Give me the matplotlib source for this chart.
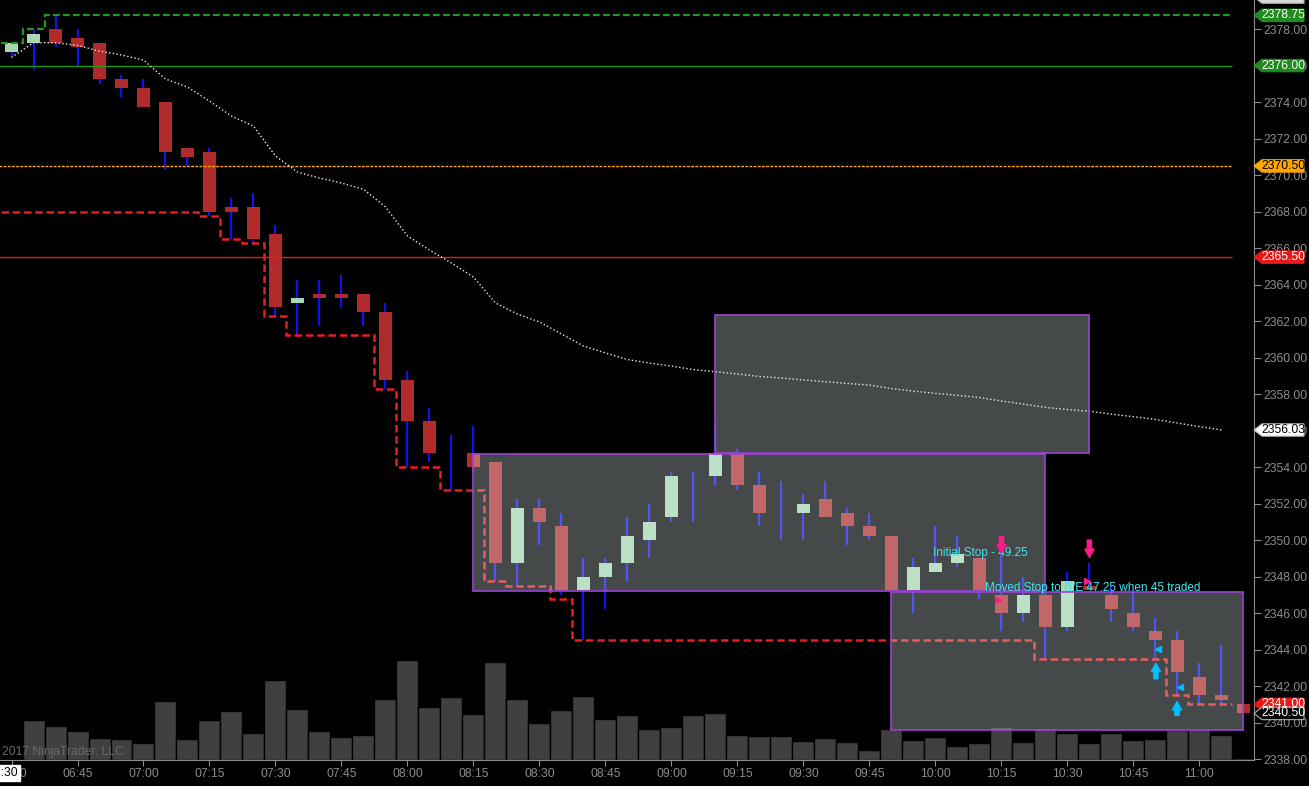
import numpy as np
import pandas as pd
import matplotlib
matplotlib.use('Agg')
import matplotlib.pyplot as plt
import matplotlib.colors as mcolors
from matplotlib.patches import Rectangle, Polygon

plt.rcParams['font.family'] = ['Liberation Sans', 'DejaVu Sans']

# 5 minute bars, 06:30 .. 11:10
times = pd.date_range('2017-01-01 06:30', periods=57, freq='5min').strftime('%H:%M')

opens = [2376.75, 2377.25, 2378.0, 2377.5, 2377.25, 2375.25, 2374.75, 2374.0, 2371.5, 2371.25,
         2368.25, 2368.25, 2366.75, 2363.0, 2363.5, 2363.5, 2363.5, 2362.5, 2358.75, 2356.5,
         2353.75, 2354.75, 2354.25, 2348.75, 2351.75, 2350.75, 2347.25, 2348.0, 2348.75, 2350.0,
         2351.25, 2352.5, 2353.5, 2354.75, 2353.0, 2351.75, 2351.5, 2352.25, 2351.5, 2350.75,
         2350.25, 2347.25, 2348.25, 2348.75, 2349.0, 2347.0, 2346.0, 2347.0, 2345.25, 2347.5,
         2347.0, 2346.0, 2345.0, 2344.5, 2342.5, 2341.5, 2341.0]
highs = [2377.25, 2378.0, 2378.75, 2378.0, 2377.25, 2375.5, 2375.25, 2374.0, 2371.5, 2371.5,
         2368.75, 2369.0, 2367.25, 2364.25, 2364.25, 2364.5, 2363.5, 2363.0, 2359.25, 2357.25,
         2355.75, 2356.25, 2354.25, 2352.25, 2352.25, 2351.5, 2349.0, 2349.0, 2351.25, 2352.0,
         2353.75, 2353.75, 2356.25, 2355.0, 2353.75, 2353.25, 2352.5, 2353.25, 2351.75, 2351.5,
         2350.25, 2349.0, 2350.75, 2350.25, 2349.0, 2349.25, 2348.0, 2347.25, 2348.25, 2348.75,
         2347.5, 2347.25, 2345.75, 2345.0, 2343.25, 2344.25, 2341.0]
lows = [2376.5, 2375.75, 2377.0, 2376.0, 2375.0, 2374.25, 2373.75, 2370.25, 2370.5, 2367.75,
        2366.5, 2366.25, 2362.25, 2361.25, 2361.75, 2362.75, 2361.75, 2358.25, 2354.0, 2354.25,
        2352.75, 2353.75, 2347.75, 2347.5, 2349.75, 2347.0, 2344.5, 2346.25, 2347.75, 2349.0,
        2351.0, 2351.0, 2353.0, 2352.75, 2350.75, 2350.0, 2350.0, 2351.25, 2349.75, 2350.0,
        2347.25, 2346.0, 2348.25, 2348.5, 2346.75, 2345.0, 2345.5, 2343.5, 2345.0, 2347.25,
        2345.5, 2345.0, 2343.5, 2341.5, 2341.0, 2341.0, 2340.5]
closes = [2377.25, 2377.75, 2377.25, 2377.0, 2375.25, 2374.75, 2373.75, 2371.25, 2371.0, 2368.0,
          2368.0, 2366.5, 2362.75, 2363.25, 2363.25, 2363.25, 2362.5, 2358.75, 2356.5, 2354.75,
          2353.75, 2354.0, 2348.75, 2351.75, 2351.0, 2347.25, 2348.0, 2348.75, 2350.25, 2351.0,
          2353.5, 2352.5, 2354.75, 2353.0, 2351.5, 2351.75, 2352.0, 2351.25, 2350.75, 2350.25,
          2347.25, 2348.5, 2348.75, 2349.25, 2347.25, 2346.0, 2347.0, 2345.25, 2347.75, 2347.25,
          2346.25, 2345.25, 2344.5, 2342.75, 2341.5, 2341.25, 2340.5]
volumes = [0, 397, 337, 287, 217, 210, 170, 593, 210, 397,
           487, 267, 800, 510, 290, 233, 250, 613, 997, 530,
           627, 463, 977, 607, 373, 500, 640, 410, 450, 307,
           333, 447, 467, 253, 240, 240, 190, 217, 180, 100,
           307, 200, 227, 143, 170, 327, 180, 317, 270, 173,
           270, 200, 213, 300, 307, 250, 20]
# moving average
ma = [2376.45, 2377.25, 2377.25, 2377.10, 2376.79, 2376.58, 2376.30, 2375.26, 2374.82, 2374.05,
      2373.23, 2372.68, 2371.04, 2370.16, 2369.84, 2369.56, 2369.22, 2368.25, 2366.66, 2365.89,
      2365.18, 2364.41, 2362.99, 2362.38, 2361.95, 2361.29, 2360.63, 2360.25, 2359.89, 2359.70,
      2359.53, 2359.34, 2359.22, 2359.10, 2358.96, 2358.88, 2358.77, 2358.68, 2358.58, 2358.49,
      2358.30, 2358.16, 2358.04, 2357.93, 2357.81, 2357.62, 2357.45, 2357.27, 2357.15, 2357.06,
      2356.90, 2356.76, 2356.61, 2356.41, 2356.22, 2356.03]
# trailing stop (red) and profit target (green), one value per bar
stop_red = ([2368.0] * 9 + [2367.75, 2366.5, 2366.25, 2362.25] + [2361.25] * 4 + [2358.25]
            + [2354.0] * 2 + [2352.75] * 2 + [2347.75] + [2347.5] * 2 + [2346.75]
            + [2344.5] * 21 + [2343.5] * 6 + [2341.5] + [2341.0] * 2)
stop_green = [2377.25, 2378.0] + [2378.75] * 54

target_price = 2376.00
entry_price = 2370.50
risk_price = 2365.50

# zones: (first bar, last bar, low, high)
zones = [(32, 49, 2354.77, 2362.33),
         (21, 47, 2347.21, 2354.70),
         (40, 56, 2339.59, 2347.13)]

# price markers on the axis: (price, background, text colour)
tags = [(2379.75, '#d8d8d8', '#202020'),
        (2378.75, '#1e8c1e', 'white'),
        (2376.00, '#1e8c1e', 'white'),
        (2370.50, '#ffa500', 'black'),
        (2365.50, '#e81818', 'white'),
        (2356.03, 'white', 'black'),
        (2341.00, '#e81818', 'white'),
        (2340.50, 'black', 'white')]

RED = '#b22b2b'
GREEN = '#a8d8b0'
PINK = '#ff1a8c'
CYAN = '#00bfff'

fig = plt.figure(figsize=(13.09, 7.86), dpi=100, facecolor='black')
ax = fig.add_axes([0, 26 / 786, 1254 / 1309, 760 / 786])
vax = ax.twinx()
ax.set_zorder(vax.get_zorder() + 1)
ax.patch.set_visible(False)
vax.set_facecolor('black')

x = np.arange(len(opens))
vax.bar(x, volumes, width=1.0, color='#404040', edgecolor='black', linewidth=1)
vax.set_ylim(0, 7600)
vax.set_yticks([])
for s in vax.spines.values():
    s.set_visible(False)

o, h, l, c = map(np.array, (opens, highs, lows, closes))
ax.vlines(x, l, h, color='#1010f0', lw=1.6, zorder=2)
ax.bar(x, np.abs(c - o), bottom=np.minimum(o, c), width=0.6,
       color=np.where(c > o, GREEN, RED), zorder=3)

edges = np.arange(len(stop_red) + 1) - 0.5
ax.stairs(stop_red, edges, baseline=None, color='#e61e1e', lw=1.8,
          linestyle=(0, (3, 1.5)), zorder=3.5)
ax.stairs(stop_green, edges, baseline=None, color='#1e9a1e', lw=1.6,
          linestyle=(0, (3, 1.5)), zorder=3.5)
ax.hlines(target_price, -1, 55.5, color='#1e9a1e', lw=1, zorder=3.5)
ax.hlines(entry_price, -1, 55.5, color='#ffa500', lw=1, linestyle=(0, (2, 1)), zorder=3.5)
ax.hlines(risk_price, -1, 55.5, color='#e61e1e', lw=1, zorder=3.5)
ax.plot(x[:len(ma)], ma, color='#e8e8e8', lw=1.0, linestyle=':', zorder=3.6)

for x0, x1, lo, hi in zones:
    ax.add_patch(Rectangle((x0, lo), x1 - x0, hi - lo,
                           facecolor=mcolors.to_rgba('#e8f4f8', 0.3),
                           edgecolor='#9b44d0', lw=1.2, zorder=4))

# trade markers
ax.text(41.9, 2349.29, 'Initial Stop - 49.25', color='#40e6f0', fontsize=8.5,
        va='center', zorder=6)
ax.text(44.25, 2347.37, 'Moved Stop to B/E 47.25 when 45 traded', color='#40e6f0',
        fontsize=8.5, va='center', zorder=6)
arrow = 'simple,head_width=0.55,head_length=0.5,tail_width=0.25'
for xi, y0, y1, col in [(45, 2350.2, 2349.3, PINK), (49, 2350.0, 2349.05, PINK),
                        (52.02, 2342.4, 2343.25, CYAN), (52.98, 2340.4, 2341.15, CYAN)]:
    ax.annotate('', xy=(xi, y1), xytext=(xi, y0), zorder=6,
                arrowprops=dict(arrowstyle=arrow, color=col, mutation_scale=12,
                                shrinkA=0, shrinkB=0))
ax.plot([44.84, 48.87], [2346.71, 2347.75], '>', color=PINK, ms=5, zorder=6)
ax.plot([52.11, 53.11], [2344.03, 2341.95], '<', color=CYAN, ms=5, zorder=6)

ax.set_xlim(-0.523, 56.48)
ax.set_ylim(2337.95, 2379.59)
ax.yaxis.tick_right()
yt = np.arange(2338, 2379, 2)
ax.set_yticks(yt)
ax.set_yticklabels([f'{v:.2f}' for v in yt])
ax.set_xticks(x[::3])
ax.set_xticklabels(times[::3])
ax.tick_params(axis='y', colors='#8c8c8c', labelsize=8.7, length=5, pad=2)
ax.tick_params(axis='x', colors='#8c8c8c', labelsize=8.7, length=4, pad=2)
for s in ['top', 'left']:
    ax.spines[s].set_visible(False)
ax.spines['right'].set_color('#8c8c8c')
ax.spines['bottom'].set_color('#8c8c8c')

# coloured price tags on the axis
tr = ax.get_yaxis_transform()
hh = 6.2 / 18.25
for price, bg, fg in tags:
    pts = [(1.0, price), (1262 / 1254, price + hh), (1304 / 1254, price + hh),
           (1304 / 1254, price - hh), (1262 / 1254, price - hh)]
    ax.add_patch(Polygon(pts, closed=True, transform=tr, facecolor=bg,
                         edgecolor='#b0b0b0' if bg in ('white', 'black', '#d8d8d8') else bg,
                         lw=0.8, clip_on=False, zorder=7))
    ax.text(1283 / 1254, price, f'{price:.2f}', transform=tr, color=fg, fontsize=8.7,
            ha='center', va='center', clip_on=False, zorder=8)

ax.text(18 / 1254, -13 / 760, '06:30', transform=ax.transAxes, color='black', fontsize=8.7,
        ha='right', va='center', zorder=8,
        bbox=dict(boxstyle='square,pad=0.15', facecolor='white', edgecolor='white'))
ax.text(2 / 1254, 8 / 760, '2017 NinjaTrader, LLC', transform=ax.transAxes,
        color='#6a6a6a', fontsize=8.7, va='center', zorder=1)

fig.savefig('out.png', dpi=100, facecolor='black')
